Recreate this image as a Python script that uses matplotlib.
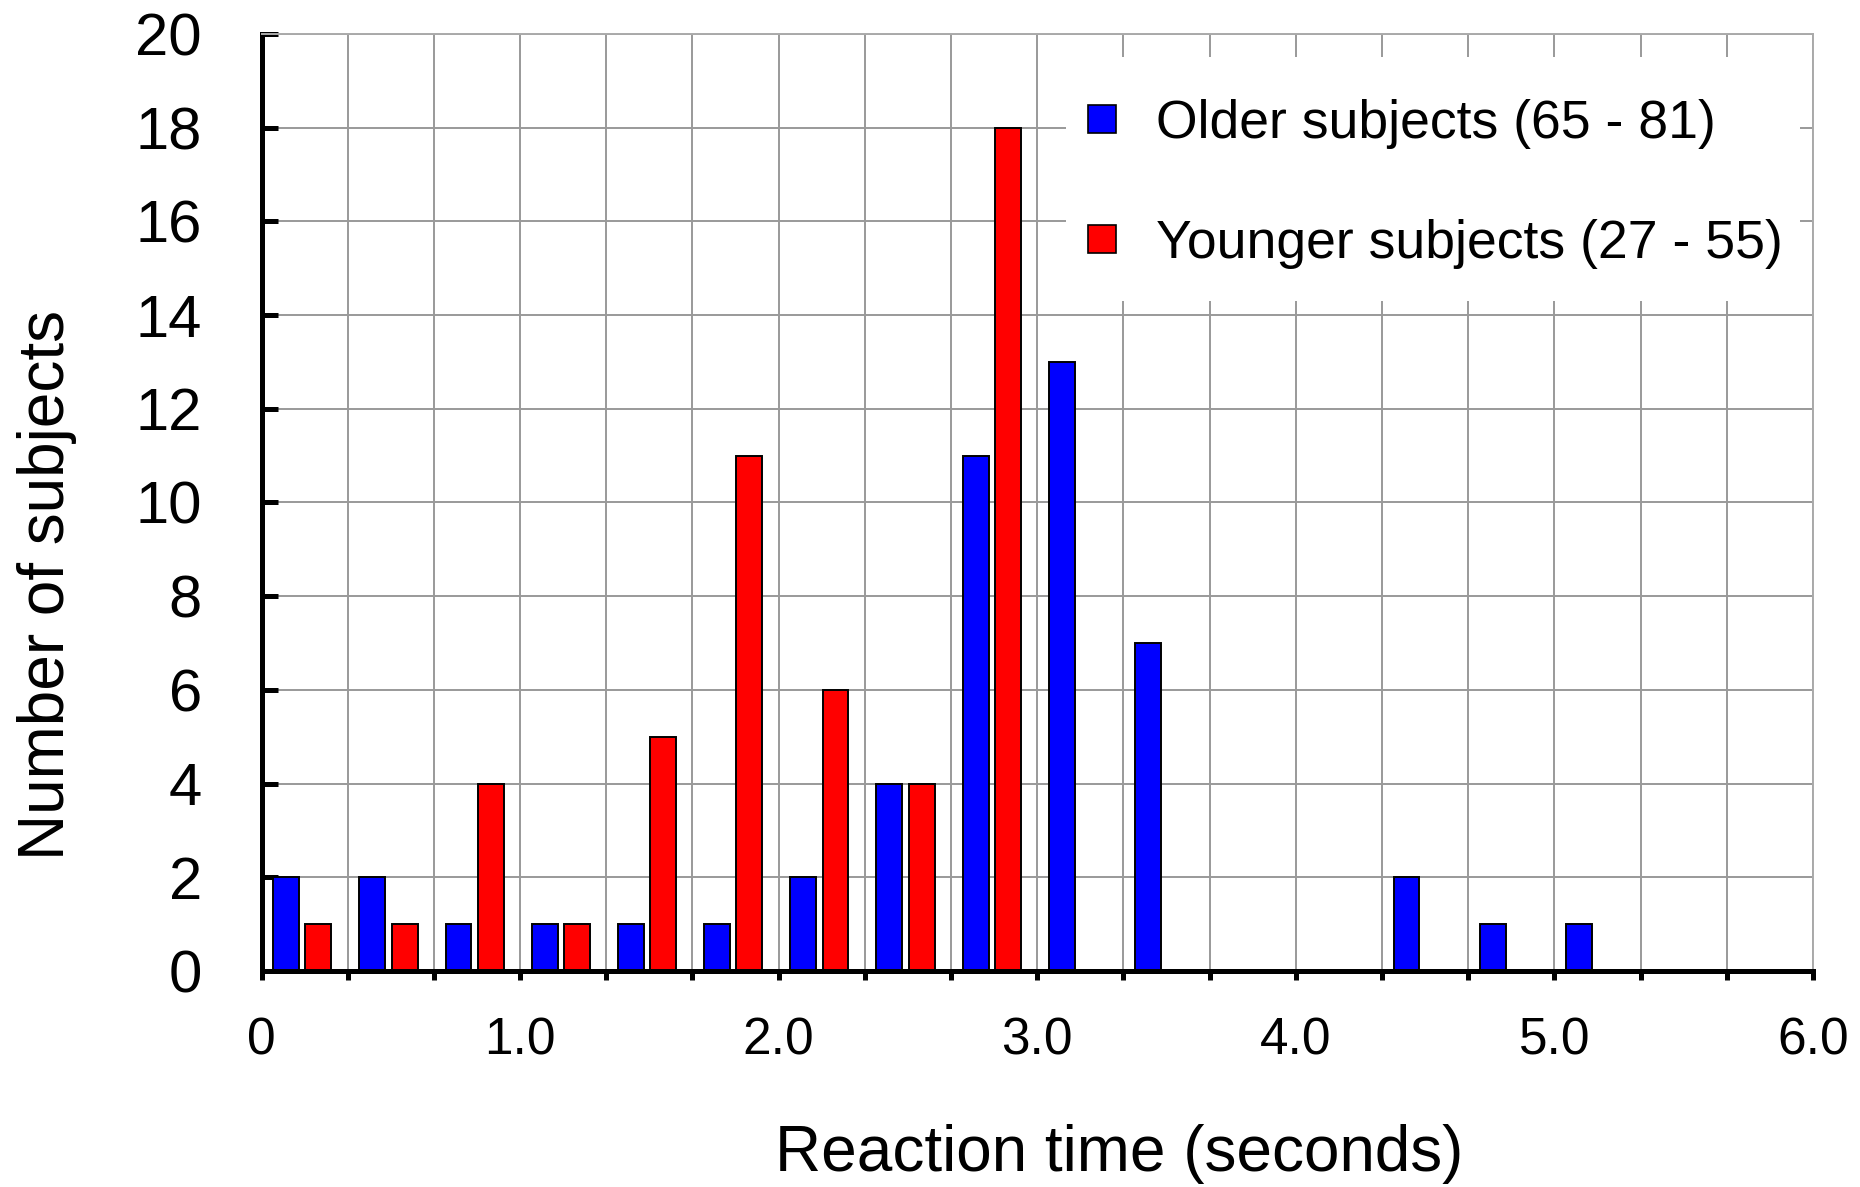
import matplotlib
matplotlib.use('Agg')
import matplotlib.pyplot as plt
import numpy as np
from matplotlib.lines import Line2D
from matplotlib.patches import Rectangle
from matplotlib.ticker import MultipleLocator, FixedLocator

plt.rcParams['font.family'] = ['Liberation Sans', 'DejaVu Sans']

# histogram bins of 1/3 second, counts per bin
bin_left = np.arange(18) / 3
older = [2, 2, 1, 1, 1, 1, 2, 4, 11, 13, 7, 0, 0, 2, 1, 1, 0, 0]
younger = [1, 1, 4, 1, 5, 11, 6, 4, 18, 0, 0, 0, 0, 0, 0, 0, 0, 0]
older_label = 'Older subjects (65 - 81)'
younger_label = 'Younger subjects (27 - 55)'
x_ticks = [0, 1, 2, 3, 4, 5, 6]
x_ticklabels = ['0', '1.0', '2.0', '3.0', '4.0', '5.0', '6.0']

fig = plt.figure(figsize=(18.6, 11.87), dpi=100)
ax = fig.add_axes([0.1406, 0.1820, 0.8341, 0.7894])
ax.set_axisbelow(True)

ax.bar(bin_left + 0.095, older, width=0.1, color='#0000ff',
       edgecolor='black', linewidth=1.4, zorder=2)
ax.bar(bin_left + 0.22, younger, width=0.1, color='#ff0000',
       edgecolor='black', linewidth=1.4, zorder=2)

ax.set_xlim(0, 6)
ax.set_ylim(0, 20)

# ticks
ax.xaxis.set_major_locator(FixedLocator(x_ticks))
ax.set_xticklabels(x_ticklabels)
ax.xaxis.set_minor_locator(MultipleLocator(1 / 3))
ax.yaxis.set_major_locator(MultipleLocator(2))
ax.tick_params(axis='x', which='both', direction='out', length=6.5,
               width=3.6, color='black', top=False)
ax.tick_params(axis='x', which='major', labelsize=37, pad=26)
ax.tick_params(axis='y', which='major', direction='in', length=11.5,
               width=3.6, color='black', labelsize=43, pad=43, right=False)

# grid
ax.grid(True, which='both', axis='x', color='#999999', linewidth=1.4)
ax.grid(True, which='major', axis='y', color='#999999', linewidth=1.4)

# spines
ax.spines['left'].set_linewidth(3.6)
ax.spines['bottom'].set_linewidth(3.6)
for s in ['top', 'right']:
    ax.spines[s].set_color('#aaaaaa')
    ax.spines[s].set_linewidth(1.4)

# labels
ax.set_xlabel('Reaction time (seconds)', fontsize=46)
ax.xaxis.set_label_coords(0.553, -0.163)
ax.set_ylabel('Number of subjects', fontsize=46)
ax.yaxis.set_label_coords(-0.119, 0.412)

# white box behind legend
ax.add_patch(Rectangle((0.5185, 0.715), 0.4731, 0.2605, transform=ax.transAxes,
                       facecolor='white', edgecolor='none', zorder=1.5))

handles = [
    Line2D([], [], linestyle='none', marker='s', markersize=19.5,
           markerfacecolor='#0000ff', markeredgecolor='black', markeredgewidth=1.2),
    Line2D([], [], linestyle='none', marker='s', markersize=19.5,
           markerfacecolor='#ff0000', markeredgecolor='black', markeredgewidth=1.2),
]
ax.legend(handles, [older_label, younger_label], loc='upper left',
          bbox_to_anchor=(0.5247, 0.931), frameon=False, fontsize=38.5,
          handlelength=1.0, handletextpad=0.5, labelspacing=1.32, borderpad=0,
          borderaxespad=0)

fig.savefig('out.png', dpi=100, facecolor='white')
